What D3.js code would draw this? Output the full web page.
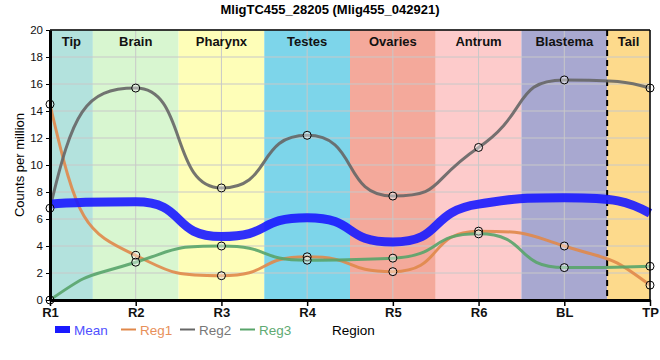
<!DOCTYPE html>
<html><head><meta charset="utf-8">
<script src="https://cdn.jsdelivr.net/npm/d3@7"></script>
<style>body{margin:0;background:#fff;font-family:"Liberation Sans",Arial,sans-serif}</style>
</head><body><svg id="c" width="660" height="360"></svg>
<script>
const categories = ["R1","R2","R3","R4","R5","R6","BL","TP"];
const meanValues = [7.1, 7.27, 4.7, 6.1, 4.3, 7.1, 7.57, 6.43];
const reg1Values = [14.5, 3.3, 1.8, 3.2, 2.1, 5.1, 4.0, 1.1];
const reg2Values = [6.8, 15.7, 8.3, 12.2, 7.7, 11.3, 16.3, 15.7];
const reg3Values = [0, 2.8, 4.0, 2.95, 3.1, 4.9, 2.4, 2.5];
const regionNames = ["Tip","Brain","Pharynx","Testes","Ovaries","Antrum","Blastema","Tail"];
const regionColors = ["#b3e2dd","#d8f6d0","#fefeb8","#7dd5ea","#f4a99b","#fdcbcb","#a8a8d0","#fdda8c"];
const yTicks = [0,2,4,6,8,10,12,14,16,18,20];

const svg = d3.select("#c");
const L=50,R=650,T=30,B=300;
const x = d3.scalePoint().domain(categories).range([L,R]);
const y = d3.scaleLinear().domain([0,20]).range([B,T]);
const step = x.step();

// monotone curve with longer control handles (flat plateaus, steep transitions)
function flatMonotone(context){
  const K = 0.6, F = 0.8;
  let xs=[], ys=[];
  return {
    areaStart(){}, areaEnd(){},
    lineStart(){ xs=[]; ys=[]; },
    point(px,py){ xs.push(+px); ys.push(+py); },
    lineEnd(){
      const n = xs.length; if(!n) return;
      const sign = v => v<0?-1:1;
      const t = new Array(n).fill(0);
      for(let i=1;i<n-1;i++){
        const h0=xs[i]-xs[i-1], h1=xs[i+1]-xs[i];
        const s0=(ys[i]-ys[i-1])/h0, s1=(ys[i+1]-ys[i])/h1;
        const p=(s0*h1+s1*h0)/(h0+h1);
        t[i]=(sign(s0)+sign(s1))*Math.min(Math.abs(s0),Math.abs(s1),0.5*Math.abs(p))||0;
      }
      if(n>1){
        const h0=xs[1]-xs[0]; t[0]=3*(ys[1]-ys[0])/h0 - 2*t[1];
        const h1=xs[n-1]-xs[n-2]; t[n-1]=3*(ys[n-1]-ys[n-2])/h1 - 2*t[n-2];
      }
      context.moveTo(xs[0],ys[0]);
      for(let i=0;i<n-1;i++){
        const dx=xs[i+1]-xs[i];
        const dy=Math.abs(ys[i+1]-ys[i]);
        const lo=Math.min(ys[i],ys[i+1]), hi=Math.max(ys[i],ys[i+1]);
        const cl=v=>Math.max(lo,Math.min(hi,v));
        const l0=Math.min(K*dx, t[i]?F*dy/Math.abs(t[i]):K*dx);
        const l1=Math.min(K*dx, t[i+1]?F*dy/Math.abs(t[i+1]):K*dx);
        context.bezierCurveTo(xs[i]+l0, cl(ys[i]+l0*t[i]), xs[i+1]-l1, cl(ys[i+1]-l1*t[i+1]), xs[i+1], ys[i+1]);
      }
    }
  };
}

// region backgrounds
regionNames.forEach((n,i)=>{
  const c = x(categories[i]);
  const x0 = Math.max(L, c - step/2), x1 = Math.min(R, c + step/2);
  svg.append("rect").attr("x",x0).attr("y",T).attr("width",x1-x0).attr("height",B-T).attr("fill",regionColors[i]);
});
// grid
svg.append("g").selectAll("line").data(yTicks).join("line")
  .attr("x1",L).attr("x2",R).attr("y1",d=>y(d)).attr("y2",d=>y(d)).attr("stroke","#c8c8c8").attr("stroke-width",1);
svg.append("g").selectAll("line").data(categories).join("line")
  .attr("x1",d=>x(d)).attr("x2",d=>x(d)).attr("y1",T).attr("y2",B).attr("stroke","#c8c8c8").attr("stroke-width",1);
// region labels
regionNames.forEach((n,i)=>{
  const c = x(categories[i]);
  const x0 = Math.max(L, c - step/2), x1 = Math.min(R, c + step/2);
  svg.append("text").attr("x",(x0+x1)/2).attr("y",T+16).attr("text-anchor","middle")
    .attr("font-size",13).attr("font-weight","bold").attr("fill","#111").text(n);
});
// dashed separator
const sep = x("BL") + step/2;
svg.append("line").attr("x1",sep).attr("x2",sep).attr("y1",T).attr("y2",B)
  .attr("stroke","#000").attr("stroke-width",2).attr("stroke-dasharray","6,4");

const line = d3.line().x((d,i)=>x(categories[i])).y(d=>y(d)).curve(flatMonotone);
const series = [
  {name:"Reg1", vals:reg1Values, color:"#e0884a", w:3},
  {name:"Reg2", vals:reg2Values, color:"#666666", w:3},
  {name:"Reg3", vals:reg3Values, color:"#58a46a", w:3}
];
series.forEach(s=>{
  svg.append("path").attr("d",line(s.vals)).attr("fill","none").attr("stroke",s.color)
    .attr("stroke-width",s.w).attr("opacity",0.9);
});
svg.append("path").attr("d",line(meanValues)).attr("fill","none").attr("stroke","#1a1aff")
  .attr("stroke-width",9).attr("opacity",0.9);
series.forEach(s=>{
  svg.append("g").selectAll("circle").data(s.vals).join("circle")
    .attr("cx",(d,i)=>x(categories[i])).attr("cy",d=>y(d)).attr("r",4)
    .attr("fill","rgba(255,255,255,0.4)").attr("stroke","#000").attr("stroke-width",1);
});

// frame
svg.append("line").attr("x1",L).attr("x2",R).attr("y1",T).attr("y2",T).attr("stroke","#000").attr("stroke-width",1.5);
svg.append("line").attr("x1",R).attr("x2",R).attr("y1",T).attr("y2",B).attr("stroke","#000").attr("stroke-width",1.5);

// axes
const ya = svg.append("g").attr("transform",`translate(${L},0)`)
  .call(d3.axisLeft(y).tickValues(yTicks).tickSize(4).tickSizeOuter(0));
ya.select(".domain").attr("stroke-width",3);
ya.selectAll("text").attr("font-size",11.5).attr("font-family","Liberation Sans, Arial").attr("fill","#111");
const xa = svg.append("g").attr("transform",`translate(0,${B})`)
  .call(d3.axisBottom(x).tickSize(6).tickPadding(2).tickSizeOuter(0));
xa.select(".domain").attr("stroke-width",3);
xa.selectAll("line").attr("stroke-width",1.5);
xa.selectAll("text").attr("font-size",13).attr("font-weight","bold").attr("font-family","Liberation Sans, Arial").attr("fill","#111");

// title
svg.append("text").attr("x",330).attr("y",14).attr("text-anchor","middle").attr("font-size",13)
  .attr("font-weight","bold").text("MligTC455_28205 (Mlig455_042921)");
// y label
svg.append("text").attr("transform","translate(24,165) rotate(-90)").attr("text-anchor","middle")
  .attr("font-size",13).text("Counts per million");

// legend
const lg = [
  {name:"Mean", color:"#1a1aff", tc:"#5050ff", x:55, thick:true},
  {name:"Reg1", color:"#e0884a", tc:"#e8905a", x:121},
  {name:"Reg2", color:"#666666", tc:"#777777", x:180},
  {name:"Reg3", color:"#58a46a", tc:"#60aa72", x:240}
];
lg.forEach(d=>{
  if(d.thick) svg.append("rect").attr("x",d.x).attr("y",326).attr("width",15).attr("height",7).attr("fill",d.color);
  else svg.append("line").attr("x1",d.x).attr("x2",d.x+15).attr("y1",329.5).attr("y2",329.5).attr("stroke",d.color).attr("stroke-width",2);
  svg.append("text").attr("x",d.x+19).attr("y",335).attr("font-size",13.5).attr("fill",d.tc).text(d.name);
});
svg.append("text").attr("x",332).attr("y",335).attr("font-size",13.5).attr("fill","#000").text("Region");
</script></body></html>
